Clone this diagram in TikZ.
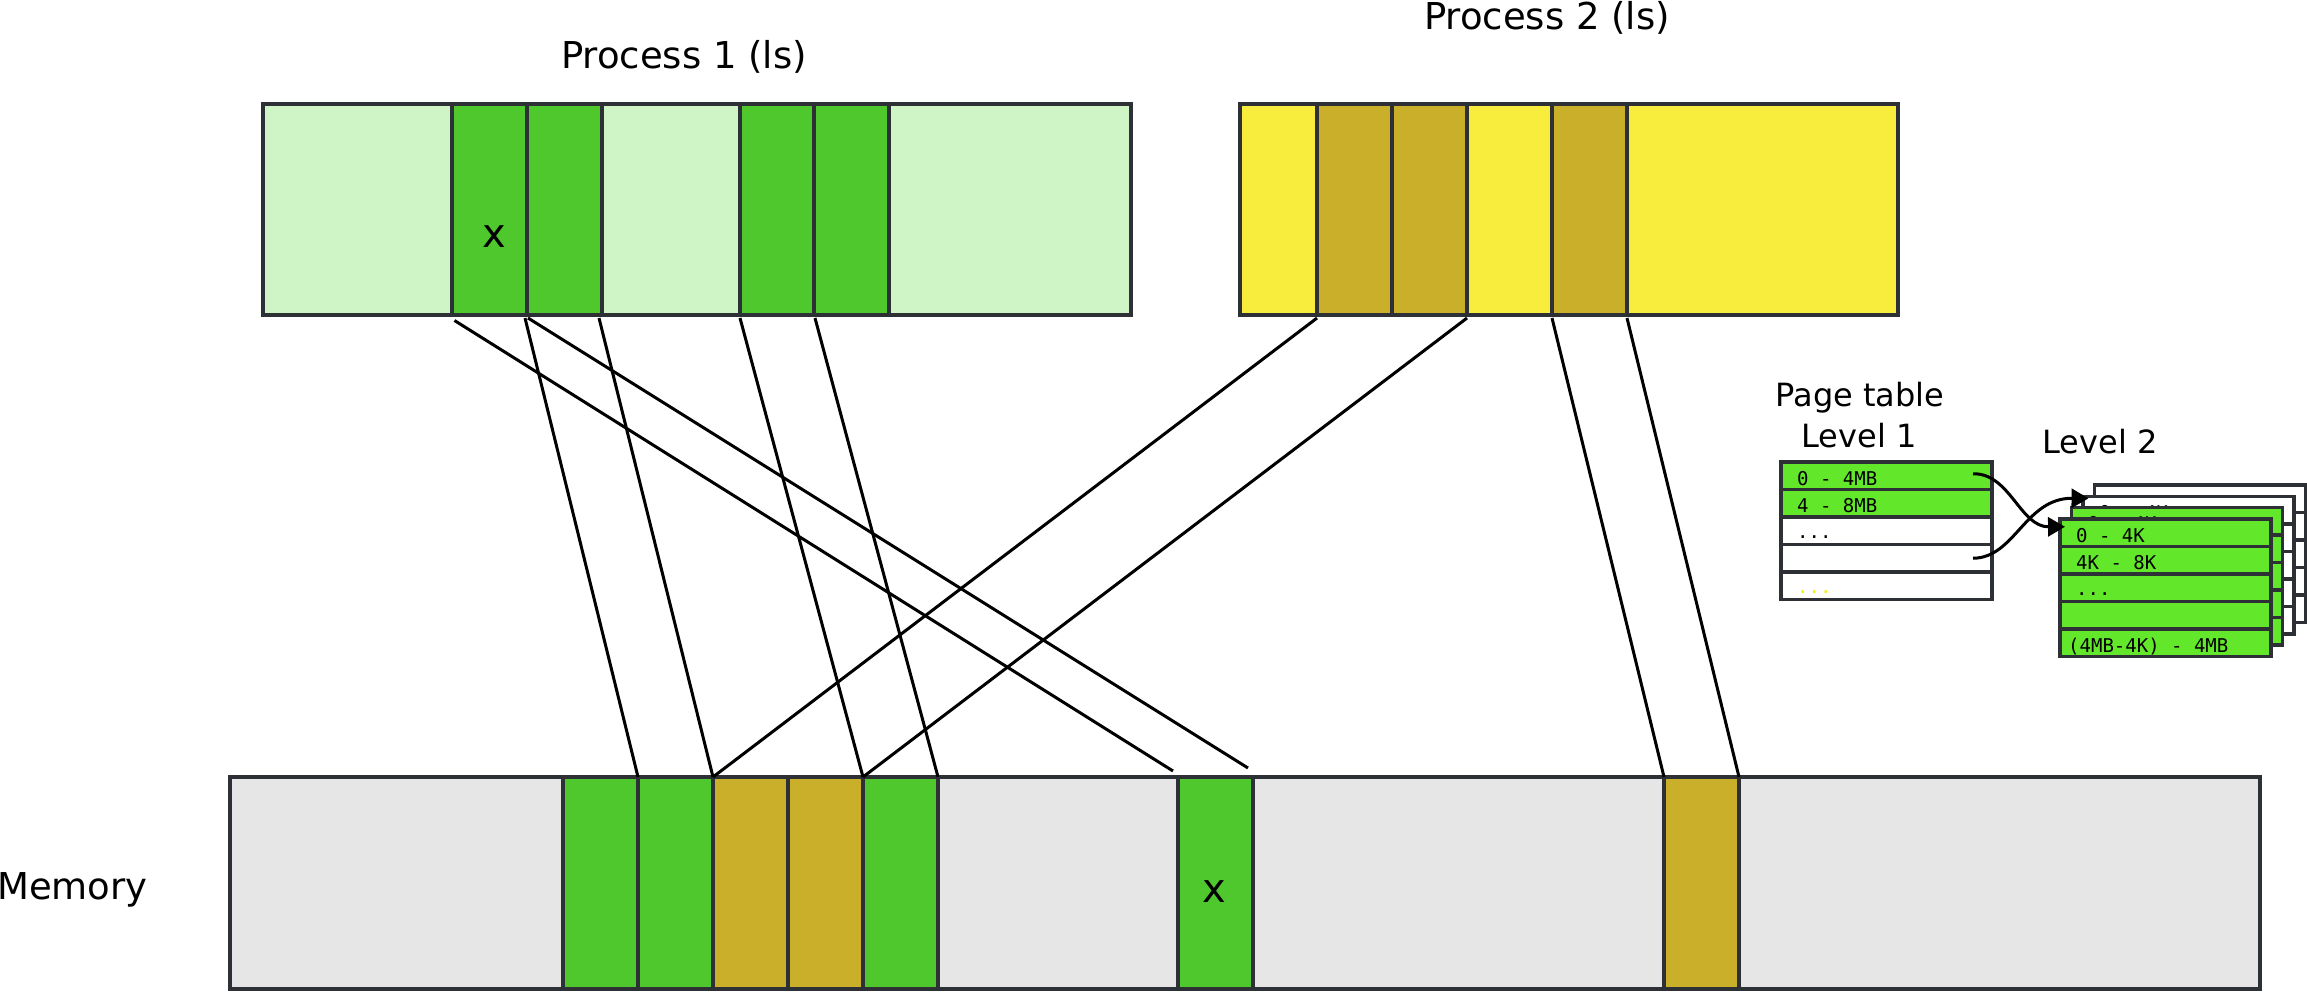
\documentclass[tikz,border=0pt]{standalone}
\usepackage{fontspec}
\setmainfont{DejaVu Sans}
\newfontfamily\monofont{DejaVu Sans Mono}
\usetikzlibrary{arrows.meta}
\definecolor{bd}{HTML}{2D3035}
\definecolor{lg}{HTML}{CFF5C7}
\definecolor{gr}{HTML}{4EC82C}
\definecolor{ly}{HTML}{F8EC3C}
\definecolor{dy}{HTML}{C9AF2A}
\definecolor{mg}{HTML}{E6E6E6}
\definecolor{tg}{HTML}{63E72B}
\definecolor{dotyel}{HTML}{F4F000}
\newcommand\threedots{...}
\begin{document}
\begin{tikzpicture}[x=1pt,y=-1pt,
  box/.style={draw=bd,line width=3.5pt,inner sep=0pt,outer sep=0pt,anchor=north west,minimum height=211pt},
  slot/.style={box,minimum width=75pt},
  mslot/.style={slot,minimum height=212pt},
  conn/.style={line width=3pt,black},
  lbl/.style={font=\fontsize{37}{44}\selectfont,inner sep=0pt,anchor=base},
  plbl/.style={font=\fontsize{32}{40}\selectfont,inner sep=0pt,anchor=base},
  trow/.style={draw=bd,line width=3.5pt,inner sep=0pt,outer sep=0pt,anchor=north west,minimum width=211pt,minimum height=27.5pt},
  mono/.style={font=\monofont\fontsize{19}{21}\selectfont,inner sep=0pt,anchor=base west},
  parrow/.style={line width=3pt,black,-{Triangle[length=17pt,width=19pt]}}
]
\useasboundingbox (0,0) rectangle (2307,993);

% Labels
\node[lbl] (t1) at (684,68) {Process 1 (ls)};
\node[lbl] (t2) at (1547,29) {Process 2 (ls)};
\node[lbl,anchor=base west] (tm) at (-3,899) {Memory};

% Process 1
\node[box,fill=lg,minimum width=868pt] (p1) at (263,104) {};
\node[slot,fill=gr] (p1a) at (452,104) {};
\node[slot,fill=gr] (p1b) at (527,104) {};
\node[slot,fill=gr] (p1c) at (740,104) {};
\node[slot,fill=gr] (p1d) at (814,104) {};
\node[lbl,font=\fontsize{40}{44}\selectfont] (x1) at (494,247) {x};

% Process 2
\node[box,fill=ly,minimum width=658pt] (p2) at (1240,104) {};
\node[slot,fill=dy] (p2a) at (1317,104) {};
\node[slot,fill=dy] (p2b) at (1392,104) {};
\node[slot,fill=dy] (p2c) at (1552,104) {};

% Memory
\node[box,fill=mg,minimum width=2030pt,minimum height=212pt] (mem) at (230,777) {};
\node[mslot,fill=gr] (m1) at (563,777) {};
\node[mslot,fill=gr] (m2) at (638,777) {};
\node[mslot,fill=dy] (m3) at (713,777) {};
\node[mslot,fill=dy] (m4) at (788,777) {};
\node[mslot,fill=gr] (m5) at (863,777) {};
\node[mslot,fill=gr] (mx) at (1178,777) {};
\node[mslot,fill=dy] (my) at (1664,777) {};
\node[lbl,font=\fontsize{40}{44}\selectfont] (x2) at (1214,902) {x};

% Connectors
\draw[conn] ([shift={(2.5,5.5)}]p1a.south west) -- ([shift={(-5,-6)}]mx.north west);
\draw[conn] ([shift={(-2,3)}]p1a.south east) -- (m1.north east);
\draw[conn] ([shift={(1,3)}]p1b.south west) -- ([shift={(-5,-9)}]mx.north east);
\draw[conn] ([shift={(-3,3)}]p1b.south east) -- (m2.north east);
\draw[conn] ([shift={(0,3)}]p1c.south west) -- (m4.north east);
\draw[conn] ([shift={(0,3)}]p1c.south east) -- (m5.north east);
\draw[conn] ([shift={(0,3)}]p2a.south west) -- (m2.north east);
\draw[conn] ([shift={(0,3)}]p2b.south east) -- (m4.north east);
\draw[conn] ([shift={(0,3)}]p2c.south west) -- (my.north west);
\draw[conn] ([shift={(0,3)}]p2c.south east) -- (my.north east);

% Page table level 1
\node[plbl] (pt1) at (1860,406) {Page table};
\node[plbl] (pt2) at (1859,447) {Level 1};
\node[trow,fill=tg] (l1r0) at (1781,462) {};
\node[trow,fill=tg] (l1r1) at (1781,489.5) {};
\node[trow,fill=white] (l1r2) at (1781,517) {};
\node[trow,fill=white] (l1r3) at (1781,544.5) {};
\node[trow,fill=white] (l1r4) at (1781,572) {};
\node[mono] at ([shift={(16,9.25)}]l1r0.west) {0 - 4MB};
\node[mono] at ([shift={(16,9.25)}]l1r1.west) {4 - 8MB};
\node[mono] at ([shift={(16,7.25)}]l1r2.west) {...};
\node[mono,text=dotyel] at ([shift={(16,7.25)}]l1r4.west) {...};

% Page table level 2
\node[plbl] (pl2) at (2100,453) {Level 2};
\foreach \k/\dx/\dy/\col in {3/34.5/-33.9/white,2/23/-22.6/white,1/11.5/-11.3/tg}{
  \foreach \i in {0,...,4}{
    \node[trow,fill=\col] (t\k r\i) at (2060+\dx,519+\dy+27.5*\i) {};
  }
  \ifnum\k<3
    \node[mono] at ([shift={(16,9.25)}]t\k r0.west) {0 - 4K};
  \fi
}
\foreach \i/\col in {0/tg,1/tg,2/tg,3/tg,4/tg}{
  \node[trow,fill=\col] (t0r\i) at (2060,519+27.5*\i) {};
}
\node[mono] at ([shift={(16,9.25)}]t0r0.west) {0 - 4K};
\node[mono] at ([shift={(16,9.25)}]t0r1.west) {4K - 8K};
\node[mono] at ([shift={(16,7.25)}]t0r2.west) {...};
\node[mono] at ([shift={(8,9.25)}]t0r4.west) {(4MB-4K) - 4MB};

% Arrows
\draw[parrow] ([shift={(192,-2)}]l1r0.west) .. controls (2010,473) and (2020,527) .. ([shift={(5,-6)}]t0r0.west);
\draw[parrow] ([shift={(192,0)}]l1r3.west) .. controls (2015,558) and (2025,498) .. ([shift={(-6,-0.5)}]t3r0.west);
\end{tikzpicture}
\end{document}
